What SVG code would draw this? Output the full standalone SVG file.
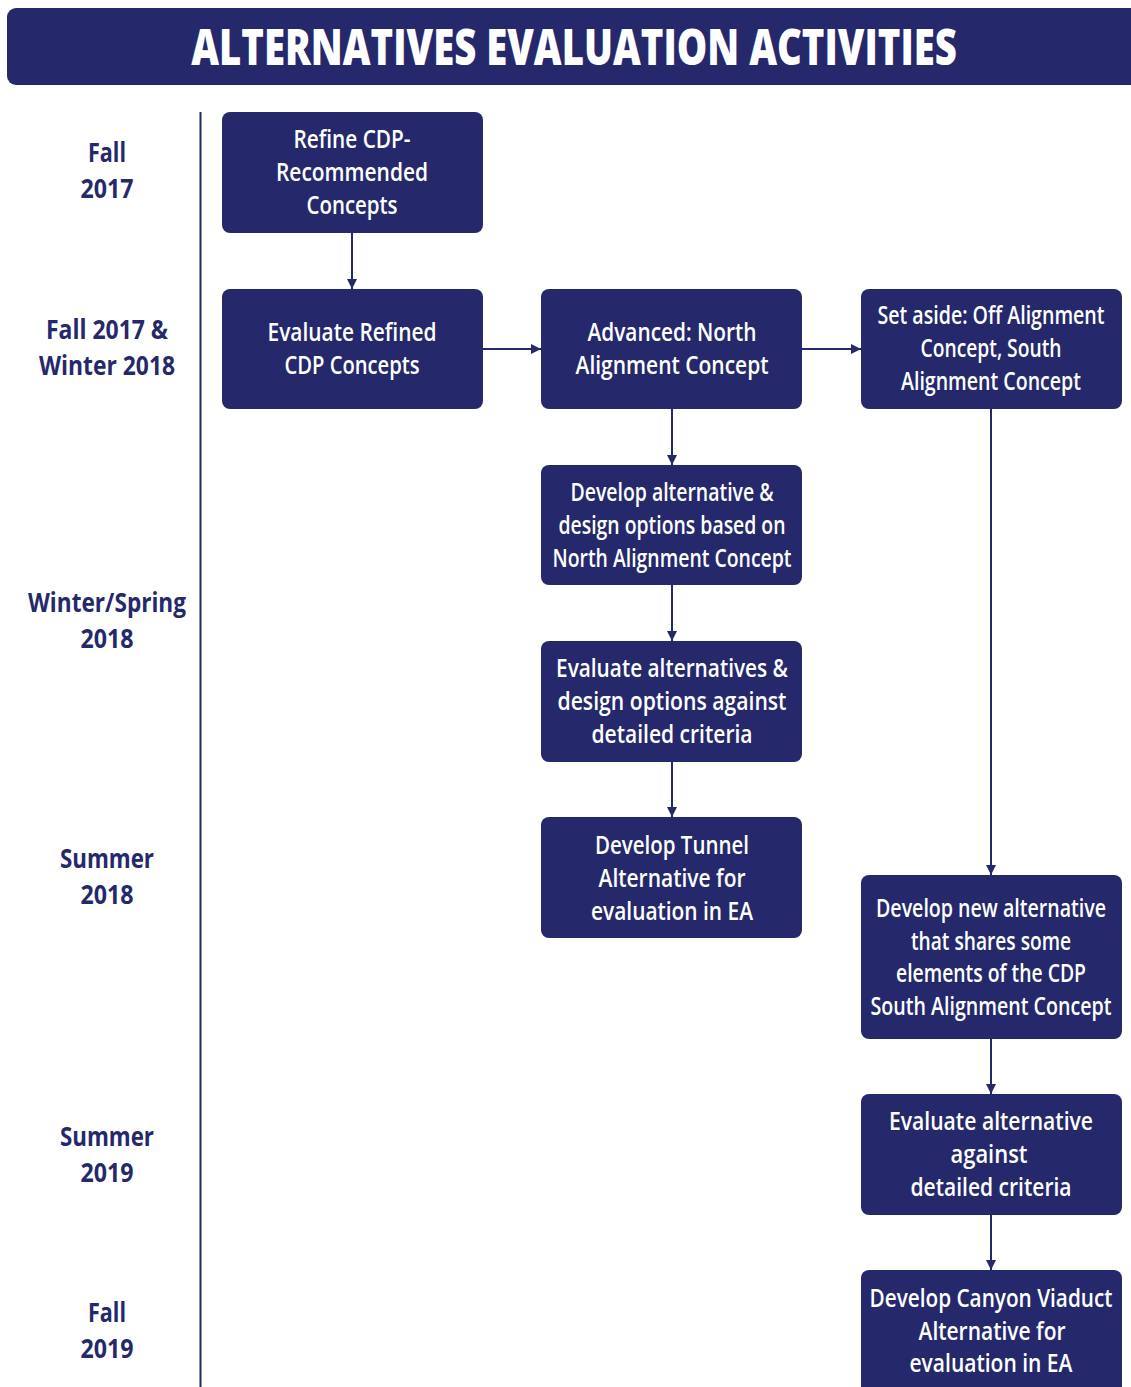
<svg xmlns="http://www.w3.org/2000/svg" width="1131" height="1387" viewBox="0 0 1131 1387">
<defs>
<style>
.box{fill:#25296c;}
.bt{fill:#ffffff;font-family:"Open Sans","Liberation Sans",sans-serif;font-weight:600;font-size:25px;text-anchor:middle;}
.lt{fill:#25296c;font-family:"Open Sans","Liberation Sans",sans-serif;font-weight:700;font-size:26px;text-anchor:middle;}
.title{fill:#ffffff;font-family:"Open Sans","Liberation Sans",sans-serif;font-weight:800;font-size:50px;text-anchor:middle;}
.conn{stroke:#25296c;stroke-width:2;fill:none;}
</style>
<marker id="ah" viewBox="0 0 10 10" refX="10" refY="5" markerWidth="10" markerHeight="10" markerUnits="userSpaceOnUse" orient="auto">
<path d="M0,0 L10,5 L0,10 Z" fill="#25296c"/>
</marker>
</defs>
<rect width="1131" height="1387" fill="#ffffff"/>
<g id="title">
<rect x="7" y="8" width="1140" height="77" rx="9" class="box"/>
<text transform="translate(574,65) scale(0.75,1)" x="0" y="0" class="title" textLength="1021" lengthAdjust="spacingAndGlyphs">ALTERNATIVES EVALUATION ACTIVITIES</text>
</g>
<g id="timeline">
<line x1="200.5" y1="112" x2="200.5" y2="1387" stroke="#25296c" stroke-width="2"/>
<text transform="translate(107,162) scale(0.75,1)" x="0" y="0" class="lt" textLength="50.7" lengthAdjust="spacingAndGlyphs">Fall</text>
<text transform="translate(107,198) scale(0.75,1)" x="0" y="0" class="lt" textLength="70.7" lengthAdjust="spacingAndGlyphs">2017</text>
<text transform="translate(107,339) scale(0.75,1)" x="0" y="0" class="lt" textLength="162.7" lengthAdjust="spacingAndGlyphs">Fall 2017 &amp;</text>
<text transform="translate(107,375) scale(0.75,1)" x="0" y="0" class="lt" textLength="181.3" lengthAdjust="spacingAndGlyphs">Winter 2018</text>
<text transform="translate(107,612) scale(0.75,1)" x="0" y="0" class="lt" textLength="210.7" lengthAdjust="spacingAndGlyphs">Winter/Spring</text>
<text transform="translate(107,648) scale(0.75,1)" x="0" y="0" class="lt" textLength="70.7" lengthAdjust="spacingAndGlyphs">2018</text>
<text transform="translate(107,868) scale(0.75,1)" x="0" y="0" class="lt" textLength="125.3" lengthAdjust="spacingAndGlyphs">Summer</text>
<text transform="translate(107,904) scale(0.75,1)" x="0" y="0" class="lt" textLength="70.7" lengthAdjust="spacingAndGlyphs">2018</text>
<text transform="translate(107,1146) scale(0.75,1)" x="0" y="0" class="lt" textLength="125.3" lengthAdjust="spacingAndGlyphs">Summer</text>
<text transform="translate(107,1182) scale(0.75,1)" x="0" y="0" class="lt" textLength="70.7" lengthAdjust="spacingAndGlyphs">2019</text>
<text transform="translate(107,1322) scale(0.75,1)" x="0" y="0" class="lt" textLength="50.7" lengthAdjust="spacingAndGlyphs">Fall</text>
<text transform="translate(107,1358) scale(0.75,1)" x="0" y="0" class="lt" textLength="70.7" lengthAdjust="spacingAndGlyphs">2019</text>
</g>
<g id="connectors">
<line x1="352" y1="233" x2="352" y2="289" class="conn" marker-end="url(#ah)"/>
<line x1="483" y1="349" x2="541" y2="349" class="conn" marker-end="url(#ah)"/>
<line x1="802" y1="349" x2="861" y2="349" class="conn" marker-end="url(#ah)"/>
<line x1="672" y1="409" x2="672" y2="465" class="conn" marker-end="url(#ah)"/>
<line x1="672" y1="585" x2="672" y2="641" class="conn" marker-end="url(#ah)"/>
<line x1="672" y1="762" x2="672" y2="817" class="conn" marker-end="url(#ah)"/>
<line x1="991" y1="409" x2="991" y2="875" class="conn" marker-end="url(#ah)"/>
<line x1="991" y1="1039" x2="991" y2="1094" class="conn" marker-end="url(#ah)"/>
<line x1="991" y1="1215" x2="991" y2="1270" class="conn" marker-end="url(#ah)"/>
</g>
<g id="n1">
<rect x="222" y="112" width="261" height="121" rx="8" class="box"/>
<text transform="translate(352,148) scale(0.75,1)" x="0" y="0" class="bt" textLength="156" lengthAdjust="spacingAndGlyphs">Refine CDP-</text>
<text transform="translate(352,181) scale(0.75,1)" x="0" y="0" class="bt" textLength="202.7" lengthAdjust="spacingAndGlyphs">Recommended</text>
<text transform="translate(352,214) scale(0.75,1)" x="0" y="0" class="bt" textLength="121.3" lengthAdjust="spacingAndGlyphs">Concepts</text>
</g>
<g id="n2">
<rect x="222" y="289" width="261" height="120" rx="8" class="box"/>
<text transform="translate(352,341) scale(0.75,1)" x="0" y="0" class="bt" textLength="225.3" lengthAdjust="spacingAndGlyphs">Evaluate Refined</text>
<text transform="translate(352,374) scale(0.75,1)" x="0" y="0" class="bt" textLength="180" lengthAdjust="spacingAndGlyphs">CDP Concepts</text>
</g>
<g id="n3">
<rect x="541" y="289" width="261" height="120" rx="8" class="box"/>
<text transform="translate(672,341) scale(0.75,1)" x="0" y="0" class="bt" textLength="225.3" lengthAdjust="spacingAndGlyphs">Advanced: North</text>
<text transform="translate(672,374) scale(0.75,1)" x="0" y="0" class="bt" textLength="257.3" lengthAdjust="spacingAndGlyphs">Alignment Concept</text>
</g>
<g id="n4">
<rect x="861" y="289" width="261" height="120" rx="8" class="box"/>
<text transform="translate(991,324) scale(0.75,1)" x="0" y="0" class="bt" textLength="302.7" lengthAdjust="spacingAndGlyphs">Set aside: Off Alignment</text>
<text transform="translate(991,357) scale(0.75,1)" x="0" y="0" class="bt" textLength="188" lengthAdjust="spacingAndGlyphs">Concept, South</text>
<text transform="translate(991,390) scale(0.75,1)" x="0" y="0" class="bt" textLength="240" lengthAdjust="spacingAndGlyphs">Alignment Concept</text>
</g>
<g id="n5">
<rect x="541" y="465" width="261" height="120" rx="8" class="box"/>
<text transform="translate(672,501) scale(0.75,1)" x="0" y="0" class="bt" textLength="270.7" lengthAdjust="spacingAndGlyphs">Develop alternative &amp;</text>
<text transform="translate(672,534) scale(0.75,1)" x="0" y="0" class="bt" textLength="302.7" lengthAdjust="spacingAndGlyphs">design options based on</text>
<text transform="translate(672,567) scale(0.75,1)" x="0" y="0" class="bt" textLength="318.7" lengthAdjust="spacingAndGlyphs">North Alignment Concept</text>
</g>
<g id="n6">
<rect x="541" y="641" width="261" height="121" rx="8" class="box"/>
<text transform="translate(672,677) scale(0.75,1)" x="0" y="0" class="bt" textLength="309.3" lengthAdjust="spacingAndGlyphs">Evaluate alternatives &amp;</text>
<text transform="translate(672,710) scale(0.75,1)" x="0" y="0" class="bt" textLength="305.3" lengthAdjust="spacingAndGlyphs">design options against</text>
<text transform="translate(672,743) scale(0.75,1)" x="0" y="0" class="bt" textLength="214.7" lengthAdjust="spacingAndGlyphs">detailed criteria</text>
</g>
<g id="n7">
<rect x="541" y="817" width="261" height="121" rx="8" class="box"/>
<text transform="translate(672,854) scale(0.75,1)" x="0" y="0" class="bt" textLength="205.3" lengthAdjust="spacingAndGlyphs">Develop Tunnel</text>
<text transform="translate(672,887) scale(0.75,1)" x="0" y="0" class="bt" textLength="196" lengthAdjust="spacingAndGlyphs">Alternative for</text>
<text transform="translate(672,920) scale(0.75,1)" x="0" y="0" class="bt" textLength="216" lengthAdjust="spacingAndGlyphs">evaluation in EA</text>
</g>
<g id="n8">
<rect x="861" y="875" width="261" height="164" rx="8" class="box"/>
<text transform="translate(991,917) scale(0.75,1)" x="0" y="0" class="bt" textLength="306.7" lengthAdjust="spacingAndGlyphs">Develop new alternative</text>
<text transform="translate(991,950) scale(0.75,1)" x="0" y="0" class="bt" textLength="213.3" lengthAdjust="spacingAndGlyphs">that shares some</text>
<text transform="translate(991,982) scale(0.75,1)" x="0" y="0" class="bt" textLength="253.3" lengthAdjust="spacingAndGlyphs">elements of the CDP</text>
<text transform="translate(991,1015) scale(0.75,1)" x="0" y="0" class="bt" textLength="321.3" lengthAdjust="spacingAndGlyphs">South Alignment Concept</text>
</g>
<g id="n9">
<rect x="861" y="1094" width="261" height="121" rx="8" class="box"/>
<text transform="translate(991,1130) scale(0.75,1)" x="0" y="0" class="bt" textLength="272" lengthAdjust="spacingAndGlyphs">Evaluate alternative</text>
<text transform="translate(989,1163) scale(0.75,1)" x="0" y="0" class="bt" textLength="102.7" lengthAdjust="spacingAndGlyphs">against</text>
<text transform="translate(991,1196) scale(0.75,1)" x="0" y="0" class="bt" textLength="214.7" lengthAdjust="spacingAndGlyphs">detailed criteria</text>
</g>
<g id="n10">
<rect x="861" y="1270" width="261" height="125" rx="8" class="box"/>
<text transform="translate(991,1307) scale(0.75,1)" x="0" y="0" class="bt" textLength="324" lengthAdjust="spacingAndGlyphs">Develop Canyon Viaduct</text>
<text transform="translate(992,1340) scale(0.75,1)" x="0" y="0" class="bt" textLength="196" lengthAdjust="spacingAndGlyphs">Alternative for</text>
<text transform="translate(991,1372) scale(0.75,1)" x="0" y="0" class="bt" textLength="217.3" lengthAdjust="spacingAndGlyphs">evaluation in EA</text>
</g>
</svg>
